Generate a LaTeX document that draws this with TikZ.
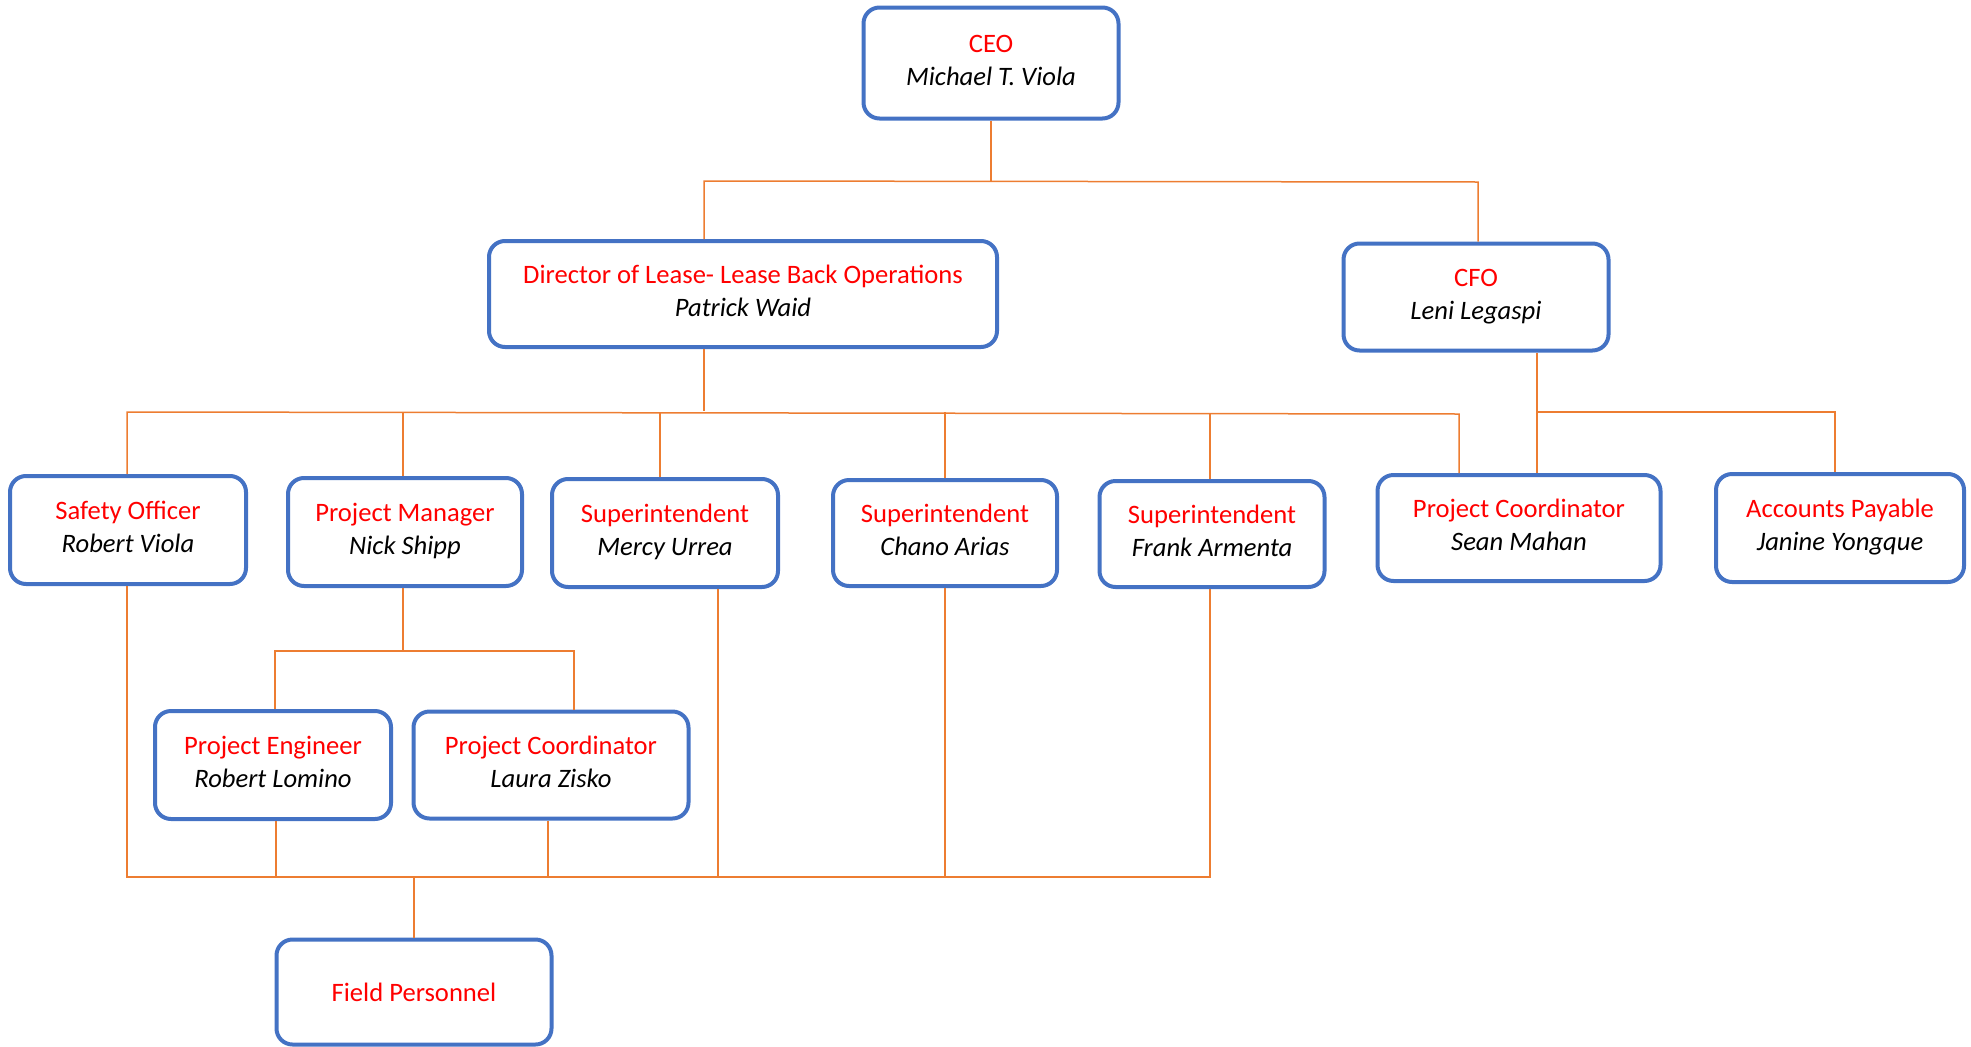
\documentclass[tikz,border=0pt]{standalone}
\usepackage{fontspec}
\setmainfont{Carlito}

\definecolor{boxblue}{HTML}{4472C4}
\definecolor{linkorange}{HTML}{ED7D31}
\definecolor{rolered}{HTML}{FF0000}

\newcommand\orgfont{\fontsize{26.6}{32.7}\selectfont}
\newcommand\role[2]{\textcolor{rolered}{#1}\\\textit{#2}}

\tikzset{
  unit/.style={draw=boxblue, line width=4pt, rounded corners=16pt, fill=white,
               align=center, font=\orgfont, inner sep=0pt},
  duo/.style={unit, text height=50pt, text depth=6pt},
  link/.style={draw=linkorange, line width=1.5pt},
}

\begin{document}
\begin{tikzpicture}[x=1pt, y=-1pt]
\useasboundingbox (0,0) rectangle (1971,1047);

% ---- boxes ----
\node[duo, minimum width=255pt, minimum height=111pt] (ceo)   at (991,63)    {\role{CEO}{Michael T. Viola}};
\node[duo, minimum width=508pt, minimum height=106pt] (dir)   at (743,294)   {\role{Director of Lease- Lease Back Operations}{Patrick Waid}};
\node[duo, minimum width=265pt, minimum height=107pt] (cfo)   at (1476,297)  {\role{CFO}{Leni Legaspi}};

\node[duo, minimum width=236pt, minimum height=108pt] (safe)  at (128,530)   {\role{Safety Officer}{Robert Viola}};
\node[duo, minimum width=234pt, minimum height=108pt] (pm)    at (405,532)   {\role{Project Manager}{Nick Shipp}};
\node[duo, minimum width=226pt, minimum height=108pt] (supa)  at (665,533)   {\role{Superintendent}{Mercy Urrea}};
\node[duo, minimum width=224pt, minimum height=106pt] (supb)  at (945,533)   {\role{Superintendent}{Chano Arias}};
\node[duo, minimum width=225pt, minimum height=106pt] (supc)  at (1212,534)  {\role{Superintendent}{Frank Armenta}};
\node[duo, minimum width=283pt, minimum height=106pt] (pcs)   at (1519,528)  {\role{Project Coordinator}{Sean Mahan}};
\node[duo, minimum width=248pt, minimum height=108pt] (ap)    at (1840,528)  {\role{Accounts Payable}{Janine Yongque}};

\node[duo, minimum width=236pt, minimum height=108pt] (pe)    at (273,765)   {\role{Project Engineer}{Robert Lomino}};
\node[duo, minimum width=275pt, minimum height=107pt] (pcl)   at (551,765)   {\role{Project Coordinator}{Laura Zisko}};

\node[unit, minimum width=275pt, minimum height=105pt] (field) at (414,992)   {\textcolor{rolered}{Field Personnel}};

% ---- bus points ----
\coordinate (ta) at (704,181);
\coordinate (tb) at (1478,182);

\coordinate (da) at (127,412);
\coordinate (db) at (403,412);
\coordinate (dc) at (660,412);
\coordinate (dd) at (945,412);
\coordinate (de) at (1210,413);
\coordinate (df) at (1459,414);
\coordinate (dm) at (704,411);

\coordinate (ca) at (1537,412);
\coordinate (cb) at (1835,412);

\coordinate (pa) at (275,651);
\coordinate (pb) at (574,651);

\coordinate (fa) at (127,877);
\coordinate (fb) at (276,877);
\coordinate (fc) at (548,877);
\coordinate (fd) at (718,877);
\coordinate (fe) at (945,877);
\coordinate (ff) at (1210,877);
\coordinate (fm) at (414,877);

% ---- connectors ----
\draw[link] (ceo.south) -- (ceo.south |- ta);
\draw[link] (dir.north -| ta) -- (ta) -- (tb) -- (cfo.north -| tb);

\draw[link] (dir.south -| dm) -- (dm);
\draw[link] (safe.north -| da) -- (da) -- (df) -- (pcs.north -| df);
\draw[link] (db) -- (pm.north -| db);
\draw[link] (dc) -- (supa.north -| dc);
\draw[link] (dd) -- (supb.north -| dd);
\draw[link] (de) -- (supc.north -| de);

\draw[link] (cfo.south -| ca) -- (pcs.north -| ca);
\draw[link] (ca) -- (cb) -- (ap.north -| cb);

\draw[link] (pm.south -| db) -- (db |- pa);
\draw[link] (pe.north -| pa) -- (pa) -- (pb) -- (pcl.north -| pb);

\draw[link] (safe.south -| fa) -- (fa) -- (ff) -- (supc.south -| ff);
\draw[link] (pe.south -| fb) -- (fb);
\draw[link] (pcl.south -| fc) -- (fc);
\draw[link] (supa.south -| fd) -- (fd);
\draw[link] (supb.south -| fe) -- (fe);
\draw[link] (fm) -- (field.north);
\end{tikzpicture}
\end{document}
